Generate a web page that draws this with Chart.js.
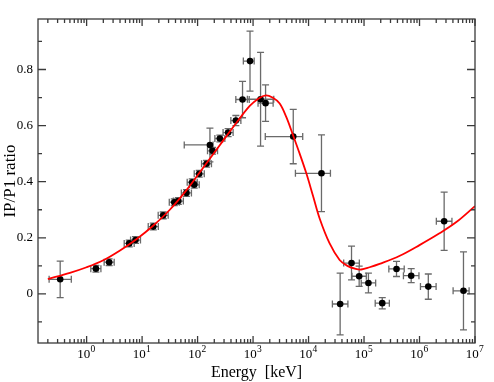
<!DOCTYPE html>
<html><head><meta charset="utf-8">
<script src="https://cdn.jsdelivr.net/npm/chart.js@4/dist/chart.umd.min.js"></script>
<style>html,body{margin:0;padding:0;background:#fff}#wrap{width:494px;height:382px}</style>
</head><body><div id="wrap"><canvas id="c" width="494" height="382"></canvas></div>
<script>
// Measured points
const energy    = [0.334, 1.47, 2.55, 5.86, 7.6, 15.9, 24, 38, 45, 63, 80, 87, 107, 145, 186, 167, 252, 355, 490, 646, 881, 1365, 1680, 5300, 17100, 37100, 59500, 81700, 120000, 213000, 385000, 708000, 1440000, 2780000, 6200000];
const energyMin = [0.211, 1.19, 2.07, 4.76, 6.2, 12.9, 19.5, 30.9, 36.6, 51, 65, 71, 87, 118, 151, 57.5, 205, 288, 398, 489, 668, 790, 1230, 1660, 5800, 26900, 43000, 60500, 89000, 159000, 280000, 513000, 1040000, 2010000, 4030000];
const energyMax = [0.53, 1.81, 3.14, 7.2, 9.35, 19.6, 29.5, 46.8, 55.4, 77.5, 98.5, 107, 132, 178, 229, 190, 310, 437, 603, 853, 1047, 2360, 2300, 7850, 24800, 51200, 82300, 110000, 162000, 286000, 530000, 977000, 1990000, 3840000, 7830000];
const ratio     = [0.052, 0.090, 0.113, 0.180, 0.192, 0.240, 0.280, 0.327, 0.331, 0.360, 0.398, 0.389, 0.428, 0.464, 0.510, 0.531, 0.554, 0.575, 0.618, 0.693, 0.830, 0.694, 0.680, 0.561, 0.430, -0.036, 0.110, 0.063, 0.039, -0.033, 0.089, 0.065, 0.026, 0.259, 0.011];
const ratioErr  = [0.065, 0.012, 0.012, 0.012, 0.012, 0.012, 0.012, 0.012, 0.012, 0.012, 0.012, 0.012, 0.012, 0.012, 0.012, 0.060, 0.012, 0.014, 0.018, 0.065, 0.107, 0.167, 0.065, 0.097, 0.137, 0.110, 0.060, 0.036, 0.035, 0.020, 0.027, 0.025, 0.045, 0.104, 0.139];
// Model curve
const curveEnergy = [0.2, 0.5, 1, 2, 4, 7.9, 15.8, 31.6, 63.1, 126, 251, 501, 871, 1259, 1698, 2239, 3020, 3981, 5248, 6918, 9120, 12020, 15850, 23990, 36310, 50100, 70800, 89100, 125900, 190500, 441600, 1000000, 2291000, 4677000, 10000000];
const curveRatio  = [0.053, 0.075, 0.095, 0.12, 0.155, 0.195, 0.243, 0.30, 0.37, 0.45, 0.53, 0.61, 0.67, 0.697, 0.708, 0.70, 0.679, 0.63, 0.566, 0.50, 0.43, 0.35, 0.269, 0.18, 0.121, 0.10, 0.089, 0.087, 0.095, 0.107, 0.136, 0.174, 0.216, 0.257, 0.313];
// Axes
const xMin = 0.133, xMax = 1e7, yMin = -0.175, yMax = 0.98;
const xMajor = [1, 10, 100, 1e3, 1e4, 1e5, 1e6, 1e7];
const xExp = ['0','1','2','3','4','5','6','7'];
const yMajor = [0, 0.2, 0.4, 0.6, 0.8];
const yMinor = [-0.1, 0.1, 0.3, 0.5, 0.7, 0.9];

const SERIF = '"Liberation Serif", "Times New Roman", serif';

const errorBars = {
  id: 'errorBars',
  beforeDatasetsDraw(chart) {
    const {ctx, chartArea: a, scales: {x, y}} = chart;
    ctx.save();
    ctx.beginPath(); ctx.rect(a.left, a.top, a.right - a.left, a.bottom - a.top); ctx.clip();
    ctx.strokeStyle = '#6a6a6a'; ctx.lineWidth = 1.3;
    const c = 3.5;
    for (let i = 0; i < energy.length; i++) {
      const px = x.getPixelForValue(energy[i]), py = y.getPixelForValue(ratio[i]);
      const x0 = x.getPixelForValue(energyMin[i]), x1 = x.getPixelForValue(energyMax[i]);
      const y0 = y.getPixelForValue(ratio[i] - ratioErr[i]), y1 = y.getPixelForValue(ratio[i] + ratioErr[i]);
      ctx.beginPath();
      ctx.moveTo(x0, py); ctx.lineTo(x1, py);
      ctx.moveTo(x0, py - c); ctx.lineTo(x0, py + c);
      ctx.moveTo(x1, py - c); ctx.lineTo(x1, py + c);
      ctx.moveTo(px, y0); ctx.lineTo(px, y1);
      ctx.moveTo(px - c, y0); ctx.lineTo(px + c, y0);
      ctx.moveTo(px - c, y1); ctx.lineTo(px + c, y1);
      ctx.stroke();
    }
    ctx.restore();
  }
};

const frame = {
  id: 'frame',
  afterDraw(chart) {
    const {ctx, chartArea: a, scales: {x, y}} = chart;
    ctx.save();
    ctx.strokeStyle = '#3a3a3a'; ctx.lineWidth = 1.3;
    ctx.strokeRect(a.left, a.top, a.right - a.left, a.bottom - a.top);
    ctx.beginPath();
    const tickX = (v, len) => {
      const p = x.getPixelForValue(v);
      ctx.moveTo(p, a.bottom); ctx.lineTo(p, a.bottom - len);
      ctx.moveTo(p, a.top); ctx.lineTo(p, a.top + len);
    };
    const tickY = (v, len) => {
      const p = y.getPixelForValue(v);
      ctx.moveTo(a.left, p); ctx.lineTo(a.left + len, p);
      ctx.moveTo(a.right, p); ctx.lineTo(a.right - len, p);
    };
    xMajor.forEach(v => tickX(v, 7));
    for (let d = -1; d < 7; d++) for (let k = 2; k <= 9; k++) {
      const v = k * Math.pow(10, d);
      if (v > xMin && v < xMax) tickX(v, 4);
    }
    yMajor.forEach(v => tickY(v, 8));
    yMinor.forEach(v => tickY(v, 4));
    ctx.stroke();
    // x tick labels: base 10 with raised exponent
    ctx.fillStyle = '#000';
    ctx.textBaseline = 'alphabetic';
    ctx.textAlign = 'left';
    xMajor.forEach((v, i) => {
      const p = x.getPixelForValue(v);
      ctx.font = '13px ' + SERIF;
      const wb = ctx.measureText('10').width;
      ctx.font = '9.5px ' + SERIF;
      const we = ctx.measureText(xExp[i]).width;
      const sx = p - (wb + we) / 2 - 0.5;
      ctx.font = '13px ' + SERIF;
      ctx.fillText('10', sx, a.bottom + 15);
      ctx.font = '9.5px ' + SERIF;
      ctx.fillText(xExp[i], sx + wb + 0.3, a.bottom + 9);
    });
    ctx.restore();
  }
};

new Chart(document.getElementById('c'), {
  data: {
    datasets: [
      {
        type: 'line', label: 'model', order: 0,
        data: curveEnergy.map((e, i) => ({x: e, y: curveRatio[i]})),
        borderColor: '#ff0000', borderWidth: 1.8, pointRadius: 0,
        tension: 0.35, fill: false
      },
      {
        type: 'scatter', label: 'IP/P1', order: 1,
        data: energy.map((e, i) => ({x: e, y: ratio[i]})),
        backgroundColor: '#000', borderColor: '#000', pointRadius: 3.3, borderWidth: 0
      }
    ]
  },
  options: {
    responsive: false, animation: false, devicePixelRatio: 1,
    layout: {padding: {top: 19, right: 19, left: 0, bottom: 0}},
    plugins: {legend: {display: false}, tooltip: {enabled: false}},
    scales: {
      x: {
        type: 'logarithmic', position: 'bottom', min: xMin, max: xMax,
        afterFit(s) { s.height = 39; },
        afterBuildTicks(s) { s.ticks = xMajor.map(v => ({value: v})); },
        grid: {display: false, drawTicks: false}, border: {display: false},
        ticks: {display: false},
        title: {display: true, text: 'Energy  [keV]', color: '#000', font: {family: SERIF, size: 16}, padding: 0}
      },
      y: {
        type: 'linear', position: 'left', min: yMin, max: yMax,
        afterFit(s) { s.width = 38; },
        afterBuildTicks(s) { s.ticks = yMajor.map(v => ({value: v})); },
        grid: {display: false, drawTicks: false}, border: {display: false},
        ticks: {
          color: '#000', font: {family: SERIF, size: 13}, padding: 5,
          callback: (v) => v === 0 ? '0' : v.toFixed(1)
        },
        title: {display: true, text: 'IP/P1 ratio', color: '#000', font: {family: SERIF, size: 17}, padding: 0}
      }
    }
  },
  plugins: [errorBars, frame]
});
</script>
</body></html>
